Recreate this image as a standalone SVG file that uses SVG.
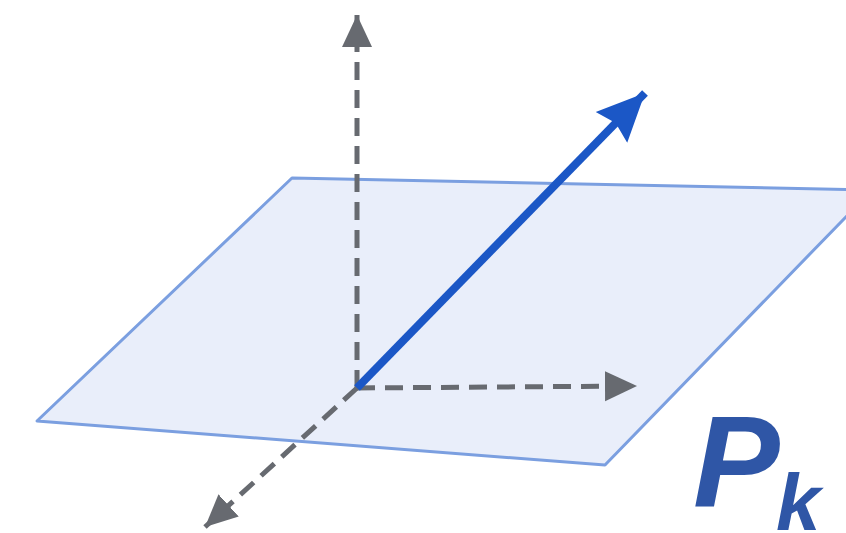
<svg xmlns="http://www.w3.org/2000/svg" width="846" height="533" viewBox="0 0 846 533">
<style>
.axis{fill:none;stroke:#676a70;stroke-width:5;stroke-dasharray:18 10}
.vec{fill:none;stroke:#1b57c6;stroke-width:8}
.lbl{font-family:"Liberation Sans",Arial,sans-serif;font-weight:bold;font-style:italic;fill:#2f56a6}
</style>
<defs>
<marker id="ga" markerUnits="userSpaceOnUse" markerWidth="40" markerHeight="40" viewBox="0 -20 40 40" refX="32" refY="0" orient="auto">
<path d="M0,-15 L32,0 L0,15 z" fill="#676a70"/>
</marker>
<marker id="ba" markerUnits="userSpaceOnUse" markerWidth="60" markerHeight="60" viewBox="0 -30 60 60" refX="48" refY="0" orient="auto">
<path d="M0,-22 L48,0 L0,22 L6,0 z" fill="#1b57c6"/>
</marker>
</defs>
<rect width="846" height="533" fill="#ffffff"/>
<g id="plane">
<polygon points="292,178 872,190 605,465 37,421" fill="#e9eefa" stroke="#7b9fe0" stroke-width="3" stroke-linejoin="round"/>
</g>
<g id="connectors">
<line class="axis" x1="357" y1="388" x2="357" y2="15" marker-end="url(#ga)"/>
<line class="axis" x1="357" y1="388" x2="637" y2="386" marker-end="url(#ga)"/>
<line class="axis" x1="357" y1="388" x2="205" y2="527" marker-end="url(#ga)"/>
<line class="vec" x1="357" y1="388" x2="645" y2="93" marker-end="url(#ba)"/>
</g>
<g id="label">
<text class="lbl" x="693" y="507" font-size="130">P</text>
<text class="lbl" x="776" y="530" font-size="80">k</text>
</g>
</svg>
